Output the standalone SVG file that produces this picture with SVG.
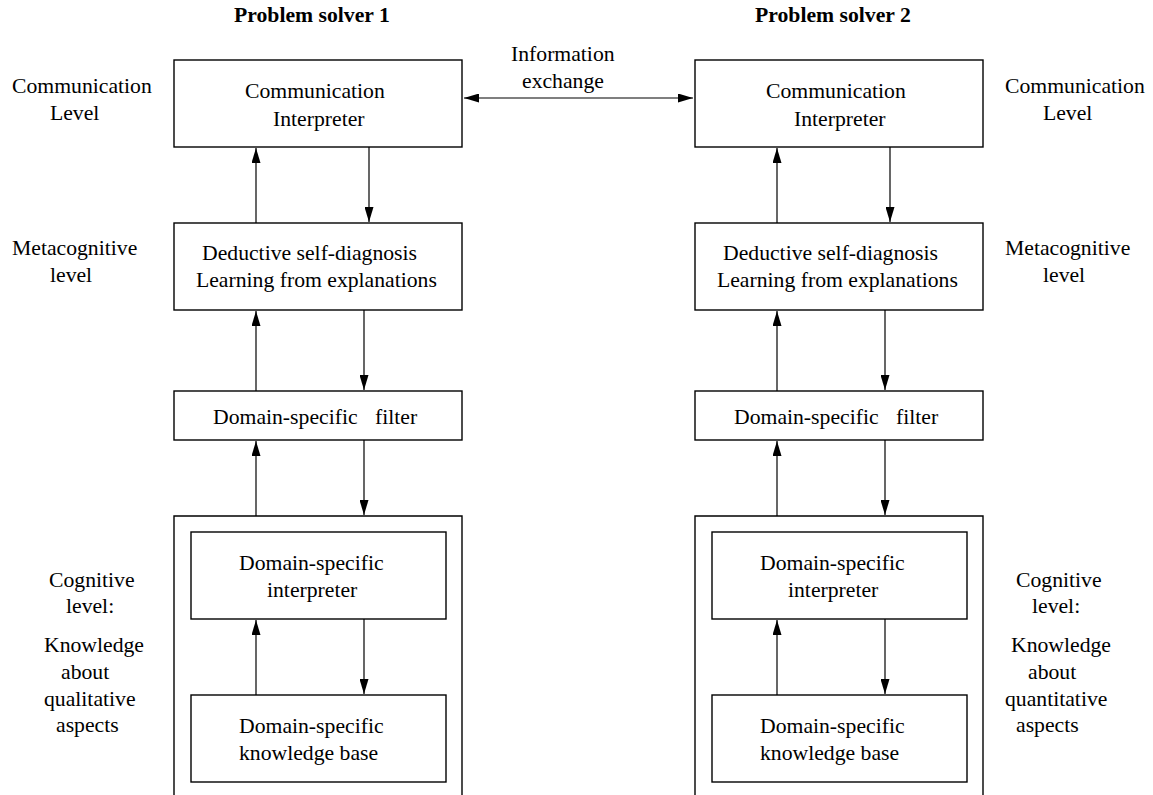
<svg xmlns="http://www.w3.org/2000/svg" width="1153" height="795" viewBox="0 0 1153 795">
<defs>
<style>
text{font-family:"Liberation Serif","Times New Roman",serif;font-size:21.7px;fill:#000}
.t{font-weight:bold}
.box{fill:#fff;stroke:#000;stroke-width:1.4}
.outer{fill:none;stroke:#000;stroke-width:1.4}
.c{stroke:#000;stroke-width:1.2;fill:none}
</style>
<marker id="ah" viewBox="0 0 15 9" refX="15" refY="4.5" markerWidth="15" markerHeight="9" markerUnits="userSpaceOnUse" orient="auto-start-reverse">
<path d="M0,0 L15,4.5 L0,9 z" fill="#000"/>
</marker>
</defs>
<rect width="1153" height="795" fill="#fff"/>

<g id="titles">
<text class="t" x="234" y="22">Problem solver 1</text>
<text class="t" x="755" y="22">Problem solver 2</text>
</g>

<g id="labels-left">
<text x="12" y="93">Communication</text>
<text x="50" y="120">Level</text>
<text x="12" y="255">Metacognitive</text>
<text x="50" y="282">level</text>
<text x="49" y="587">Cognitive</text>
<text x="66" y="613">level:</text>
<text x="44" y="652">Knowledge</text>
<text x="61" y="679">about</text>
<text x="44" y="706">qualitative</text>
<text x="56" y="732">aspects</text>
</g>

<g id="labels-right">
<text x="1005" y="93">Communication</text>
<text x="1043" y="120">Level</text>
<text x="1005" y="255">Metacognitive</text>
<text x="1043" y="282">level</text>
<text x="1016" y="587">Cognitive</text>
<text x="1032" y="613">level:</text>
<text x="1011" y="652">Knowledge</text>
<text x="1028" y="679">about</text>
<text x="1005" y="706">quantitative</text>
<text x="1016" y="732">aspects</text>
</g>

<g id="info-exchange-label">
<text x="511" y="61">Information</text>
<text x="522" y="88">exchange</text>
</g>

<g id="ps1-comm"><rect class="box" x="174" y="60" width="288" height="87"/>
<text x="245" y="98">Communication</text><text x="273" y="126">Interpreter</text></g>
<g id="ps1-meta"><rect class="box" x="174" y="223" width="288" height="87"/>
<text x="202" y="260">Deductive self-diagnosis</text><text x="196" y="287">Learning from explanations</text></g>
<g id="ps1-filter"><rect class="box" x="174" y="391" width="288" height="49"/>
<text x="213" y="424">Domain-specific</text><text x="375" y="424">filter</text></g>
<g id="ps1-cognitive"><path class="outer" d="M174,800 V516 H462 V800"/></g>
<g id="ps1-interp"><rect class="box" x="191" y="532" width="255" height="87"/>
<text x="239" y="570">Domain-specific</text><text x="267" y="597">interpreter</text></g>
<g id="ps1-kb"><rect class="box" x="191" y="695" width="255" height="87"/>
<text x="239" y="733">Domain-specific</text><text x="239" y="760">knowledge base</text></g>

<g id="ps2-comm"><rect class="box" x="695" y="60" width="288" height="87"/>
<text x="766" y="98">Communication</text><text x="794" y="126">Interpreter</text></g>
<g id="ps2-meta"><rect class="box" x="695" y="223" width="288" height="87"/>
<text x="723" y="260">Deductive self-diagnosis</text><text x="717" y="287">Learning from explanations</text></g>
<g id="ps2-filter"><rect class="box" x="695" y="391" width="288" height="49"/>
<text x="734" y="424">Domain-specific</text><text x="896" y="424">filter</text></g>
<g id="ps2-cognitive"><path class="outer" d="M695,800 V516 H983 V800"/></g>
<g id="ps2-interp"><rect class="box" x="712" y="532" width="255" height="87"/>
<text x="760" y="570">Domain-specific</text><text x="788" y="597">interpreter</text></g>
<g id="ps2-kb"><rect class="box" x="712" y="695" width="255" height="87"/>
<text x="760" y="733">Domain-specific</text><text x="760" y="760">knowledge base</text></g>

<g id="connectors">
<line class="c" x1="464" y1="98" x2="693" y2="98" marker-start="url(#ah)" marker-end="url(#ah)"/>
<line class="c" x1="256" y1="223" x2="256" y2="148" marker-end="url(#ah)"/>
<line class="c" x1="369" y1="147" x2="369" y2="222" marker-end="url(#ah)"/>
<line class="c" x1="256" y1="391" x2="256" y2="311" marker-end="url(#ah)"/>
<line class="c" x1="364" y1="310" x2="364" y2="390" marker-end="url(#ah)"/>
<line class="c" x1="256" y1="516" x2="256" y2="441" marker-end="url(#ah)"/>
<line class="c" x1="364" y1="440" x2="364" y2="515" marker-end="url(#ah)"/>
<line class="c" x1="256" y1="695" x2="256" y2="620" marker-end="url(#ah)"/>
<line class="c" x1="364" y1="619" x2="364" y2="694" marker-end="url(#ah)"/>
<line class="c" x1="777" y1="223" x2="777" y2="148" marker-end="url(#ah)"/>
<line class="c" x1="890" y1="147" x2="890" y2="222" marker-end="url(#ah)"/>
<line class="c" x1="777" y1="391" x2="777" y2="311" marker-end="url(#ah)"/>
<line class="c" x1="885" y1="310" x2="885" y2="390" marker-end="url(#ah)"/>
<line class="c" x1="777" y1="516" x2="777" y2="441" marker-end="url(#ah)"/>
<line class="c" x1="885" y1="440" x2="885" y2="515" marker-end="url(#ah)"/>
<line class="c" x1="777" y1="695" x2="777" y2="620" marker-end="url(#ah)"/>
<line class="c" x1="885" y1="619" x2="885" y2="694" marker-end="url(#ah)"/>
</g>
</svg>
